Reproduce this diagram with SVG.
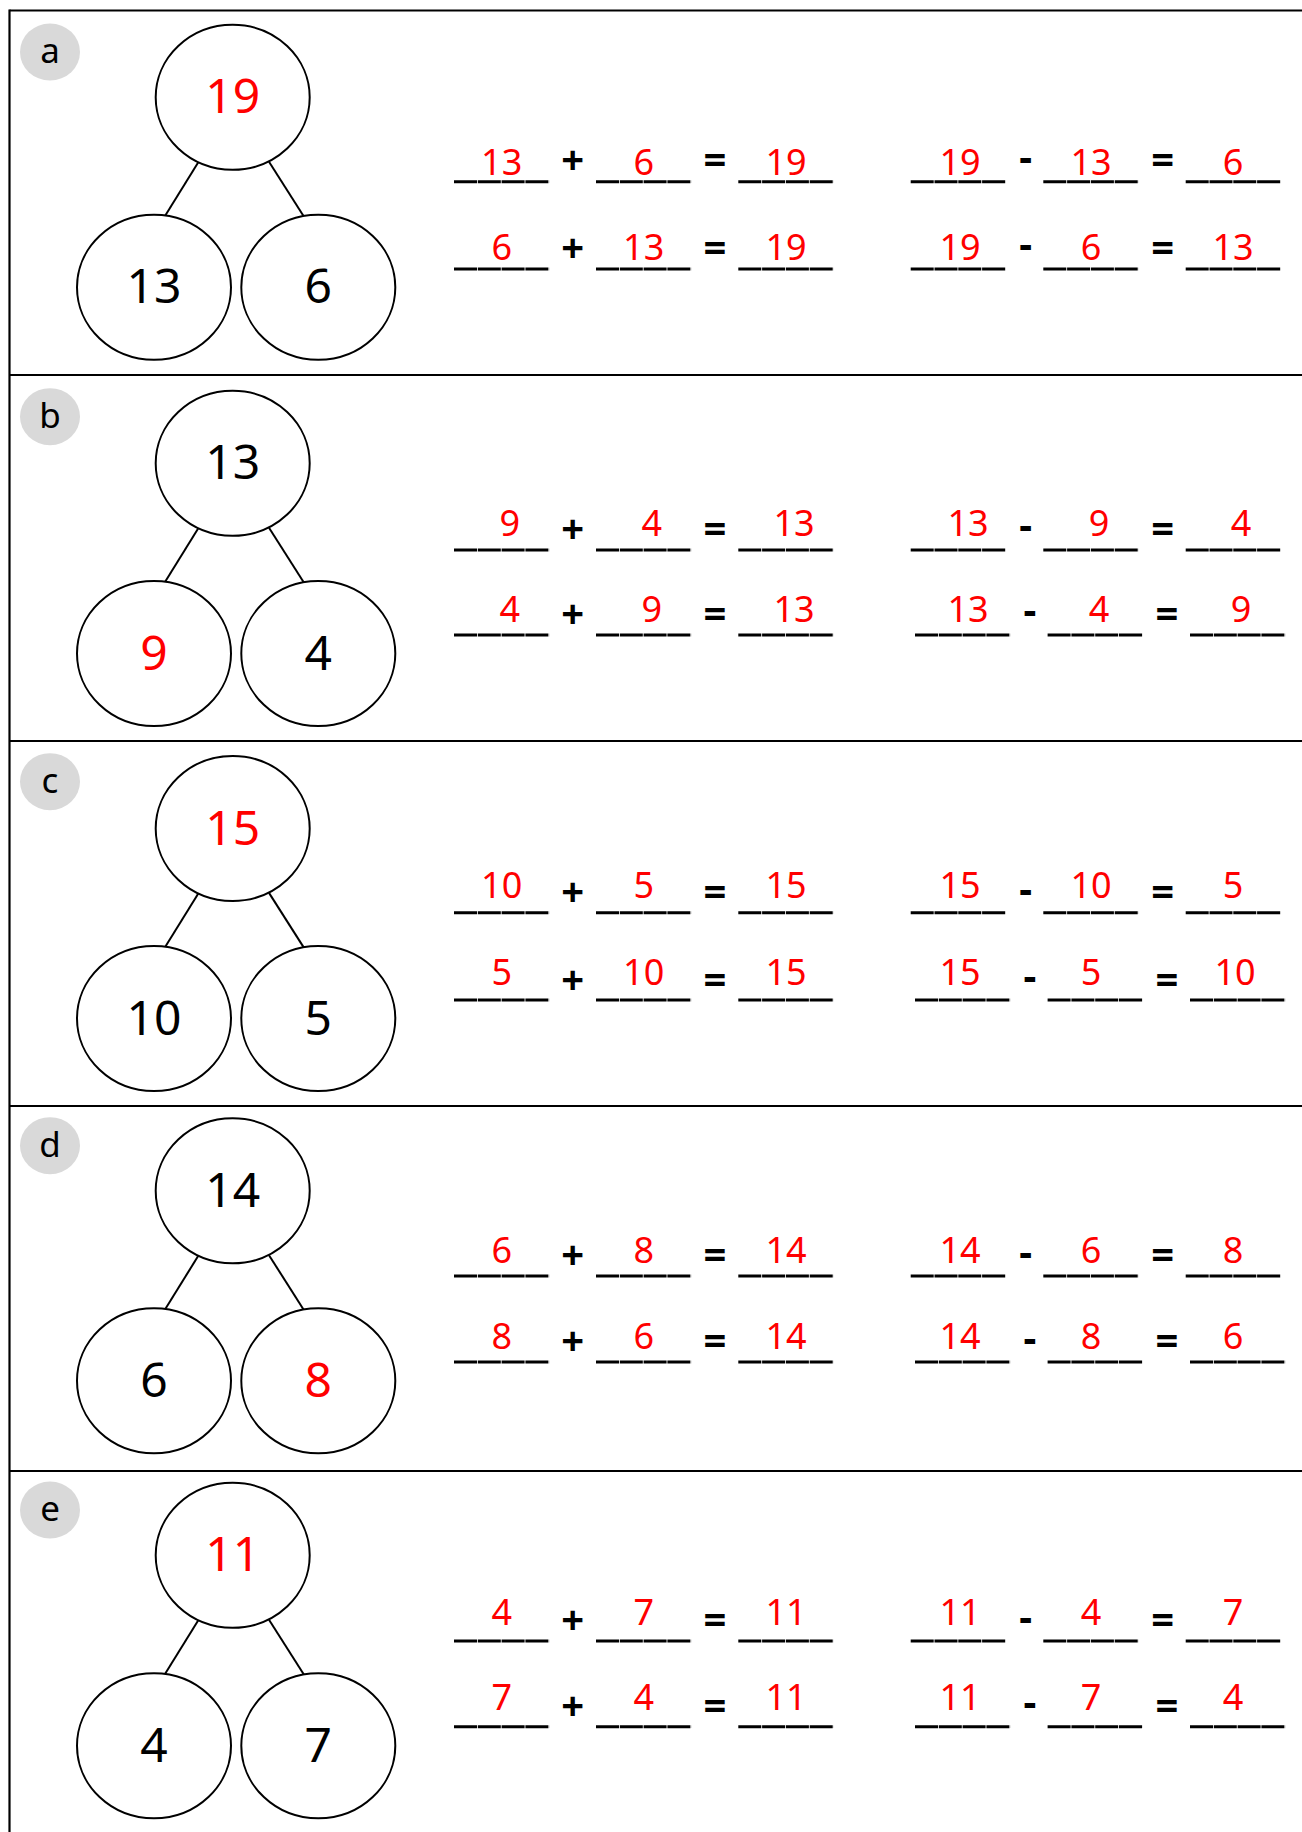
<svg xmlns="http://www.w3.org/2000/svg" width="1302" height="1832" viewBox="0 0 1302 1832">
<style>
.frame{stroke:#000;stroke-width:2.2;fill:none}
.badge{fill:#d9d9d9}
.bl{font-family:"Noto Sans","DejaVu Sans",sans-serif;font-size:35px;fill:#000;text-anchor:middle}
.node{fill:#fff;stroke:#000;stroke-width:2}
.nt{font-family:"Noto Sans","DejaVu Sans",sans-serif;font-size:48px;text-anchor:middle;fill:#000}
.red{fill:#ff0000}
.con line{stroke:#000;stroke-width:2}
.u{stroke:#000;stroke-width:3;stroke-dasharray:23 0.8}
.op{font-family:"Noto Sans","DejaVu Sans",sans-serif;font-size:40px;font-weight:bold;text-anchor:middle;fill:#000}
.ans{font-family:"Noto Sans","DejaVu Sans",sans-serif;font-size:36px;text-anchor:middle;fill:#ff0000}
</style>

<g id="frame" class="frame">
<line x1="9.5" y1="10.5" x2="1302" y2="10.5"/>
<line x1="9.5" y1="9.5" x2="9.5" y2="1832"/>
<line x1="9.5" y1="375" x2="1302" y2="375"/>
<line x1="9.5" y1="741" x2="1302" y2="741"/>
<line x1="9.5" y1="1106" x2="1302" y2="1106"/>
<line x1="9.5" y1="1471" x2="1302" y2="1471"/>
</g>

<g id="connectors" class="con">
<line x1="198.3" y1="162.3" x2="165" y2="216"/>
<line x1="269" y1="161.7" x2="304" y2="216.7"/>
<line x1="198.3" y1="528.3" x2="165" y2="582"/>
<line x1="269" y1="527.7" x2="304" y2="582.7"/>
<line x1="198.3" y1="893.5" x2="165" y2="947.2"/>
<line x1="269" y1="892.9" x2="304" y2="947.9"/>
<line x1="198.3" y1="1255.8" x2="165" y2="1309.5"/>
<line x1="269" y1="1255.2" x2="304" y2="1310.2"/>
<line x1="198.3" y1="1620.3" x2="165" y2="1674"/>
<line x1="269" y1="1619.7" x2="304" y2="1674.7"/>
</g>

<!-- Panel a -->
<g id="panel-a">
<g id="badge-a"><ellipse class="badge" cx="50" cy="52" rx="30" ry="28.5"/><text class="bl" x="50" y="63">a</text></g>
<g id="a-whole"><ellipse class="node" cx="232.7" cy="97.3" rx="77" ry="72.5"/><text class="nt red" x="232.7" y="113.3">19</text></g>
<g id="a-part1"><ellipse class="node" cx="154" cy="287.3" rx="77" ry="72.5"/><text class="nt" x="154" y="303.3">13</text></g>
<g id="a-part2"><ellipse class="node" cx="318.3" cy="287.3" rx="77" ry="72.5"/><text class="nt" x="318.3" y="303.3">6</text></g>
<g id="a-eq">
<line class="u" x1="454" y1="181.7" x2="549.3" y2="181.7"/><line class="u" x1="596" y1="181.7" x2="691.3" y2="181.7"/><line class="u" x1="738.3" y1="181.7" x2="833.6" y2="181.7"/>
<line class="u" x1="910.7" y1="181.7" x2="1006" y2="181.7"/><line class="u" x1="1043.3" y1="181.7" x2="1138.6" y2="181.7"/><line class="u" x1="1185.7" y1="181.7" x2="1281" y2="181.7"/>
<text class="op" x="572.7" y="174.2">+</text><text class="op" x="715" y="174.2">=</text><text class="op" x="1025.7" y="171">-</text><text class="op" x="1162.7" y="174.2">=</text>
<text class="ans" x="501.7" y="175">13</text><text class="ans" x="643.7" y="175">6</text><text class="ans" x="786" y="175">19</text>
<text class="ans" x="960" y="175">19</text><text class="ans" x="1091" y="175">13</text><text class="ans" x="1233" y="175">6</text>
<line class="u" x1="454" y1="269" x2="549.3" y2="269"/><line class="u" x1="596" y1="269" x2="691.3" y2="269"/><line class="u" x1="738.3" y1="269" x2="833.6" y2="269"/>
<line class="u" x1="910.7" y1="269" x2="1006" y2="269"/><line class="u" x1="1043.3" y1="269" x2="1138.6" y2="269"/><line class="u" x1="1185.7" y1="269" x2="1281" y2="269"/>
<text class="op" x="572.7" y="261.5">+</text><text class="op" x="715" y="261.5">=</text><text class="op" x="1025.7" y="258.3">-</text><text class="op" x="1162.7" y="261.5">=</text>
<text class="ans" x="501.7" y="260">6</text><text class="ans" x="643.7" y="260">13</text><text class="ans" x="786" y="260">19</text>
<text class="ans" x="960" y="260">19</text><text class="ans" x="1091" y="260">6</text><text class="ans" x="1233" y="260">13</text>
</g>
</g>

<!-- Panel b -->
<g id="panel-b">
<g id="badge-b"><ellipse class="badge" cx="50" cy="416.7" rx="30" ry="28.5"/><text class="bl" x="50" y="427.7">b</text></g>
<g id="b-whole"><ellipse class="node" cx="232.7" cy="463.3" rx="77" ry="72.5"/><text class="nt" x="232.7" y="479.3">13</text></g>
<g id="b-part1"><ellipse class="node" cx="154" cy="653.5" rx="77" ry="72.5"/><text class="nt red" x="154" y="669.5">9</text></g>
<g id="b-part2"><ellipse class="node" cx="318.3" cy="653.5" rx="77" ry="72.5"/><text class="nt" x="318.3" y="669.5">4</text></g>
<g id="b-eq">
<line class="u" x1="454" y1="550" x2="549.3" y2="550"/><line class="u" x1="596" y1="550" x2="691.3" y2="550"/><line class="u" x1="738.3" y1="550" x2="833.6" y2="550"/>
<line class="u" x1="910.7" y1="550" x2="1006" y2="550"/><line class="u" x1="1043.3" y1="550" x2="1138.6" y2="550"/><line class="u" x1="1185.7" y1="550" x2="1281" y2="550"/>
<text class="op" x="572.7" y="542.5">+</text><text class="op" x="715" y="542.5">=</text><text class="op" x="1025.7" y="539.3">-</text><text class="op" x="1162.7" y="542.5">=</text>
<text class="ans" x="509.7" y="535.7">9</text><text class="ans" x="651.7" y="535.7">4</text><text class="ans" x="794" y="535.7">13</text>
<text class="ans" x="968" y="535.7">13</text><text class="ans" x="1099" y="535.7">9</text><text class="ans" x="1241" y="535.7">4</text>
<line class="u" x1="454" y1="635" x2="549.3" y2="635"/><line class="u" x1="596" y1="635" x2="691.3" y2="635"/><line class="u" x1="738.3" y1="635" x2="833.6" y2="635"/>
<line class="u" x1="915" y1="635" x2="1010.3" y2="635"/><line class="u" x1="1047.6" y1="635" x2="1142.9" y2="635"/><line class="u" x1="1190" y1="635" x2="1285.3" y2="635"/>
<text class="op" x="572.7" y="627.5">+</text><text class="op" x="715" y="627.5">=</text><text class="op" x="1030" y="624.3">-</text><text class="op" x="1167" y="627.5">=</text>
<text class="ans" x="509.7" y="621.7">4</text><text class="ans" x="651.7" y="621.7">9</text><text class="ans" x="794" y="621.7">13</text>
<text class="ans" x="968" y="621.7">13</text><text class="ans" x="1099" y="621.7">4</text><text class="ans" x="1241" y="621.7">9</text>
</g>
</g>

<!-- Panel c -->
<g id="panel-c">
<g id="badge-c"><ellipse class="badge" cx="50" cy="781.7" rx="30" ry="28.5"/><text class="bl" x="50" y="792.7">c</text></g>
<g id="c-whole"><ellipse class="node" cx="232.7" cy="828.5" rx="77" ry="72.5"/><text class="nt red" x="232.7" y="844.5">15</text></g>
<g id="c-part1"><ellipse class="node" cx="154" cy="1018.5" rx="77" ry="72.5"/><text class="nt" x="154" y="1034.5">10</text></g>
<g id="c-part2"><ellipse class="node" cx="318.3" cy="1018.5" rx="77" ry="72.5"/><text class="nt" x="318.3" y="1034.5">5</text></g>
<g id="c-eq">
<line class="u" x1="454" y1="912.7" x2="549.3" y2="912.7"/><line class="u" x1="596" y1="912.7" x2="691.3" y2="912.7"/><line class="u" x1="738.3" y1="912.7" x2="833.6" y2="912.7"/>
<line class="u" x1="910.7" y1="912.7" x2="1006" y2="912.7"/><line class="u" x1="1043.3" y1="912.7" x2="1138.6" y2="912.7"/><line class="u" x1="1185.7" y1="912.7" x2="1281" y2="912.7"/>
<text class="op" x="572.7" y="906.2">+</text><text class="op" x="715" y="906.2">=</text><text class="op" x="1025.7" y="903">-</text><text class="op" x="1162.7" y="906.2">=</text>
<text class="ans" x="501.7" y="898.3">10</text><text class="ans" x="643.7" y="898.3">5</text><text class="ans" x="786" y="898.3">15</text>
<text class="ans" x="960" y="898.3">15</text><text class="ans" x="1091" y="898.3">10</text><text class="ans" x="1233" y="898.3">5</text>
<line class="u" x1="454" y1="1000" x2="549.3" y2="1000"/><line class="u" x1="596" y1="1000" x2="691.3" y2="1000"/><line class="u" x1="738.3" y1="1000" x2="833.6" y2="1000"/>
<line class="u" x1="915" y1="1000" x2="1010.3" y2="1000"/><line class="u" x1="1047.6" y1="1000" x2="1142.9" y2="1000"/><line class="u" x1="1190" y1="1000" x2="1285.3" y2="1000"/>
<text class="op" x="572.7" y="993.5">+</text><text class="op" x="715" y="993.5">=</text><text class="op" x="1030" y="990.3">-</text><text class="op" x="1167" y="993.5">=</text>
<text class="ans" x="501.7" y="985">5</text><text class="ans" x="643.7" y="985">10</text><text class="ans" x="786" y="985">15</text>
<text class="ans" x="960" y="985">15</text><text class="ans" x="1091" y="985">5</text><text class="ans" x="1235" y="985">10</text>
</g>
</g>

<!-- Panel d -->
<g id="panel-d">
<g id="badge-d"><ellipse class="badge" cx="50" cy="1145.7" rx="30" ry="28.5"/><text class="bl" x="50" y="1156.7">d</text></g>
<g id="d-whole"><ellipse class="node" cx="232.7" cy="1190.8" rx="77" ry="72.5"/><text class="nt" x="232.7" y="1206.8">14</text></g>
<g id="d-part1"><ellipse class="node" cx="154" cy="1380.8" rx="77" ry="72.5"/><text class="nt" x="154" y="1396.8">6</text></g>
<g id="d-part2"><ellipse class="node" cx="318.3" cy="1380.8" rx="77" ry="72.5"/><text class="nt red" x="318.3" y="1396.8">8</text></g>
<g id="d-eq">
<line class="u" x1="454" y1="1276" x2="549.3" y2="1276"/><line class="u" x1="596" y1="1276" x2="691.3" y2="1276"/><line class="u" x1="738.3" y1="1276" x2="833.6" y2="1276"/>
<line class="u" x1="910.7" y1="1276" x2="1006" y2="1276"/><line class="u" x1="1043.3" y1="1276" x2="1138.6" y2="1276"/><line class="u" x1="1185.7" y1="1276" x2="1281" y2="1276"/>
<text class="op" x="572.7" y="1269">+</text><text class="op" x="715" y="1269">=</text><text class="op" x="1025.7" y="1265.8">-</text><text class="op" x="1162.7" y="1269">=</text>
<text class="ans" x="501.7" y="1262.5">6</text><text class="ans" x="643.7" y="1262.5">8</text><text class="ans" x="786" y="1262.5">14</text>
<text class="ans" x="960" y="1262.5">14</text><text class="ans" x="1091" y="1262.5">6</text><text class="ans" x="1233" y="1262.5">8</text>
<line class="u" x1="454" y1="1362" x2="549.3" y2="1362"/><line class="u" x1="596" y1="1362" x2="691.3" y2="1362"/><line class="u" x1="738.3" y1="1362" x2="833.6" y2="1362"/>
<line class="u" x1="915" y1="1362" x2="1010.3" y2="1362"/><line class="u" x1="1047.6" y1="1362" x2="1142.9" y2="1362"/><line class="u" x1="1190" y1="1362" x2="1285.3" y2="1362"/>
<text class="op" x="572.7" y="1355">+</text><text class="op" x="715" y="1355">=</text><text class="op" x="1030" y="1351.8">-</text><text class="op" x="1167" y="1355">=</text>
<text class="ans" x="501.7" y="1349">8</text><text class="ans" x="643.7" y="1349">6</text><text class="ans" x="786" y="1349">14</text>
<text class="ans" x="960" y="1349">14</text><text class="ans" x="1091" y="1349">8</text><text class="ans" x="1233" y="1349">6</text>
</g>
</g>

<!-- Panel e -->
<g id="panel-e">
<g id="badge-e"><ellipse class="badge" cx="50" cy="1510" rx="30" ry="28.5"/><text class="bl" x="50" y="1521">e</text></g>
<g id="e-whole"><ellipse class="node" cx="232.7" cy="1555.3" rx="77" ry="72.5"/><text class="nt red" x="232.7" y="1571.3">11</text></g>
<g id="e-part1"><ellipse class="node" cx="154" cy="1745.8" rx="77" ry="72.5"/><text class="nt" x="154" y="1761.8">4</text></g>
<g id="e-part2"><ellipse class="node" cx="318.3" cy="1745.8" rx="77" ry="72.5"/><text class="nt" x="318.3" y="1761.8">7</text></g>
<g id="e-eq">
<line class="u" x1="454" y1="1641" x2="549.3" y2="1641"/><line class="u" x1="596" y1="1641" x2="691.3" y2="1641"/><line class="u" x1="738.3" y1="1641" x2="833.6" y2="1641"/>
<line class="u" x1="910.7" y1="1641" x2="1006" y2="1641"/><line class="u" x1="1043.3" y1="1641" x2="1138.6" y2="1641"/><line class="u" x1="1185.7" y1="1641" x2="1281" y2="1641"/>
<text class="op" x="572.7" y="1634.2">+</text><text class="op" x="715" y="1634.2">=</text><text class="op" x="1025.7" y="1631">-</text><text class="op" x="1162.7" y="1634.2">=</text>
<text class="ans" x="501.7" y="1625">4</text><text class="ans" x="643.7" y="1625">7</text><text class="ans" x="786" y="1625">11</text>
<text class="ans" x="960" y="1625">11</text><text class="ans" x="1091" y="1625">4</text><text class="ans" x="1233" y="1625">7</text>
<line class="u" x1="454" y1="1726.7" x2="549.3" y2="1726.7"/><line class="u" x1="596" y1="1726.7" x2="691.3" y2="1726.7"/><line class="u" x1="738.3" y1="1726.7" x2="833.6" y2="1726.7"/>
<line class="u" x1="915" y1="1726.7" x2="1010.3" y2="1726.7"/><line class="u" x1="1047.6" y1="1726.7" x2="1142.9" y2="1726.7"/><line class="u" x1="1190" y1="1726.7" x2="1285.3" y2="1726.7"/>
<text class="op" x="572.7" y="1719.5">+</text><text class="op" x="715" y="1719.5">=</text><text class="op" x="1030" y="1716.3">-</text><text class="op" x="1167" y="1719.5">=</text>
<text class="ans" x="501.7" y="1710">7</text><text class="ans" x="643.7" y="1710">4</text><text class="ans" x="786" y="1710">11</text>
<text class="ans" x="960" y="1710">11</text><text class="ans" x="1091" y="1710">7</text><text class="ans" x="1233" y="1710">4</text>
</g>
</g>
</svg>
